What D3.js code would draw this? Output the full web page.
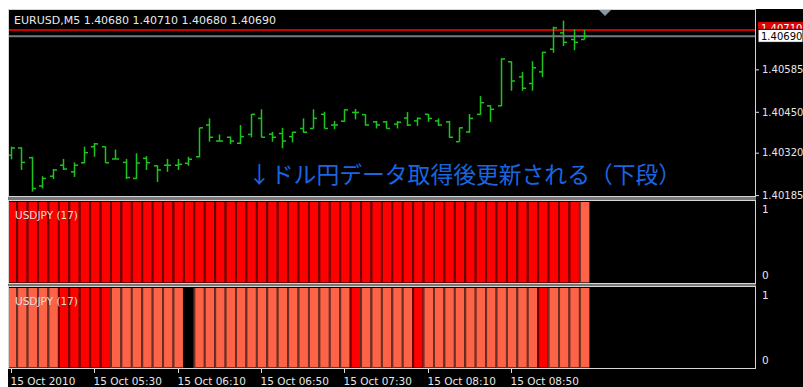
<!DOCTYPE html>
<html><head><meta charset="utf-8">
<script src="https://cdn.jsdelivr.net/npm/d3@7"></script>
<style>body{margin:0;background:#fff;} svg{display:block;}</style>
</head><body><svg id="c" width="803" height="387"></svg>
<script>
// ---------------- DATA ----------------
const symbolTitle = "EURUSD,M5";
const headerOHLC = ["1.40680", "1.40710", "1.40680", "1.40690"];
const times = ["04:50","04:55","05:00","05:05","05:10","05:15","05:20","05:25",
  "05:30","05:35","05:40","05:45","05:50","05:55","06:00","06:05",
  "06:10","06:15","06:20","06:25","06:30","06:35","06:40","06:45",
  "06:50","06:55","07:00","07:05","07:10","07:15","07:20","07:25",
  "07:30","07:35","07:40","07:45","07:50","07:55","08:00","08:05",
  "08:10","08:15","08:20","08:25","08:30","08:35","08:40","08:45",
  "08:50","08:55","09:00","09:05","09:10","09:15","09:20","09:25"];
const openP = [1.40312,1.40335,1.40304,1.40214,1.40245,1.40280,1.40259,1.40288,
  1.40339,1.40339,1.40300,1.40289,1.40238,1.40302,1.40278,1.40280,
  1.40280,1.40286,1.40307,1.40408,1.40357,1.40369,1.40350,1.40378,
  1.40429,1.40379,1.40381,1.40371,1.40397,1.40397,1.40442,1.40408,
  1.40420,1.40448,1.40441,1.40418,1.40418,1.40411,1.40430,1.40421,
  1.40442,1.40421,1.40418,1.40355,1.40386,1.40442,1.40469,1.40469,
  1.40609,1.40561,1.40540,1.40577,1.40649,1.40701,1.40680,1.40680];
const highP = [1.40339,1.40337,1.40307,1.40245,1.40268,1.40300,1.40289,1.40339,
  1.40351,1.40339,1.40330,1.40300,1.40318,1.40309,1.40280,1.40300,
  1.40300,1.40307,1.40399,1.40429,1.40378,1.40371,1.40408,1.40443,
  1.40458,1.40386,1.40399,1.40386,1.40429,1.40458,1.40450,1.40421,
  1.40458,1.40459,1.40442,1.40421,1.40421,1.40421,1.40449,1.40432,
  1.40443,1.40429,1.40421,1.40400,1.40443,1.40500,1.40471,1.40620,
  1.40611,1.40577,1.40611,1.40641,1.40721,1.40740,1.40712,1.40710];
const lowP = [1.40299,1.40265,1.40196,1.40206,1.40236,1.40265,1.40243,1.40286,
  1.40307,1.40288,1.40299,1.40236,1.40236,1.40265,1.40227,1.40259,
  1.40265,1.40278,1.40305,1.40355,1.40355,1.40347,1.40347,1.40369,
  1.40369,1.40355,1.40334,1.40353,1.40383,1.40397,1.40397,1.40395,
  1.40418,1.40426,1.40406,1.40397,1.40397,1.40397,1.40405,1.40405,
  1.40418,1.40405,1.40367,1.40355,1.40383,1.40440,1.40418,1.40468,
  1.40517,1.40517,1.40517,1.40560,1.40638,1.40659,1.40646,1.40680];
const closeP = [1.40335,1.40289,1.40206,1.40238,1.40265,1.40268,1.40280,1.40320,
  1.40348,1.40288,1.40300,1.40241,1.40287,1.40288,1.40265,1.40280,
  1.40283,1.40299,1.40399,1.40369,1.40357,1.40357,1.40371,1.40442,
  1.40369,1.40369,1.40357,1.40385,1.40385,1.40429,1.40397,1.40408,
  1.40456,1.40448,1.40408,1.40408,1.40397,1.40417,1.40408,1.40429,
  1.40429,1.40408,1.40369,1.40399,1.40429,1.40479,1.40458,1.40618,
  1.40548,1.40525,1.40590,1.40639,1.40717,1.40671,1.40671,1.40690];
const askPrice = 1.40710;
const bidPrice = 1.40690;
const priceTicks = [1.40185, 1.40320, 1.40450, 1.40585];

// sub-window 1 (upper histogram): values and colour states (R = red, T = tomato)
const sub1Values = [1,1,1,1,1,1,1,1, 1,1,1,1,1,1,1,1, 1,1,1,1,1,1,1,1, 1,1,1,1,1,1,1,1,
  1,1,1,1,1,1,1,1, 1,1,1,1,1,1,1,1, 1,1,1,1,1,1,1,1];
const sub1States = ["R","R","R","R","R","R","R","R","R","R","R","R","R","R","R","R",
  "R","R","R","R","R","R","R","R","R","R","R","R","R","R","R","R",
  "R","R","R","R","R","R","R","R","R","R","R","R","R","R","R","R",
  "R","R","R","R","R","R","R","T"];
// sub-window 2 (lower histogram)
const sub2Values = [1,1,1,1,1,1,1,1, 1,1,1,1,1,1,1,1, 1,0,1,1,1,1,1,1, 1,1,1,1,1,1,1,1,
  1,1,1,1,1,1,1,1, 1,1,1,1,1,1,1,1, 1,1,1,1,1,1,1,1];
const sub2States = ["T","T","T","T","T","R","R","R","R","R","T","T","T","T","T","T",
  "T","N","T","T","T","T","T","T","T","T","T","T","T","T","T","T",
  "T","R","T","T","T","T","T","R","T","T","T","T","T","T","T","T",
  "T","T","T","R","T","T","T","T"];
const subTicks = [0, 1];
const subLabel = "USDJPY (17)";
const timeTickBars = ["04:50","05:30","06:10","06:50","07:30","08:10","08:50"];
const timeTickLabels = ["15 Oct 2010","15 Oct 05:30","15 Oct 06:10","15 Oct 06:50","15 Oct 07:30","15 Oct 08:10","15 Oct 08:50"];
const noteText = "↓ドル円データ取得後更新される（下段）";

// ---------------- LAYOUT ----------------
const W = 803, H = 387;
const L = 8, R = 755;
const main = {top: 9, bottom: 197};
const p1 = {top: 200, bottom: 284};
const p2 = {top: 286, bottom: 369};
const font = "'DejaVu Sans', sans-serif";
const axisText = "#e6e6e6";

const svg = d3.select("#c");
svg.append("rect").attr("width", W).attr("height", H).attr("fill", "#fff");
svg.append("rect").attr("x", L).attr("y", main.top).attr("width", W - L).attr("height", H - main.top).attr("fill", "#000");

const defs = svg.append("defs");
defs.append("clipPath").attr("id", "clipMain").append("rect")
  .attr("x", L + 1).attr("y", main.top + 1).attr("width", R - L - 1).attr("height", main.bottom - main.top - 1);
defs.append("clipPath").attr("id", "clipP").append("rect")
  .attr("x", L + 1).attr("y", 0).attr("width", R - L - 1).attr("height", H);

// x scale (bars)
const bw = 10.42;
const x = d3.scaleBand().domain(times).range([11 - bw / 2, 11 - bw / 2 + bw * times.length]).padding(0);
const cx = t => x(t) + x.bandwidth() / 2;

// price scale
const y = d3.scaleLinear().domain([1.40179, 1.40777]).range([main.bottom, main.top]);

// ---------------- MAIN PANEL ----------------
const gMain = svg.append("g").attr("clip-path", "url(#clipMain)");
gMain.append("line").attr("x1", L).attr("x2", R).attr("y1", y(askPrice)).attr("y2", y(askPrice))
  .attr("stroke", "#c80000").attr("stroke-width", 2);
gMain.append("line").attr("x1", L).attr("x2", R).attr("y1", y(bidPrice)).attr("y2", y(bidPrice))
  .attr("stroke", "#6f7a84").attr("stroke-width", 2);

const green = "#1ec41e";
const bars = gMain.append("g").attr("stroke", green).attr("stroke-width", 1.5).attr("fill", "none");
times.forEach((t, i) => {
  const c = Math.round(cx(t)) + 0.5;
  bars.append("line").attr("x1", c).attr("x2", c).attr("y1", y(highP[i])).attr("y2", y(lowP[i]));
  bars.append("line").attr("x1", c - 3.5).attr("x2", c).attr("y1", y(openP[i])).attr("y2", y(openP[i]));
  bars.append("line").attr("x1", c).attr("x2", c + 3.5).attr("y1", y(closeP[i])).attr("y2", y(closeP[i]));
});

// header text
svg.append("text").attr("x", 14).attr("y", 24).attr("fill", "#e8e8e8")
  .style("font-family", font).style("font-size", "11px")
  .text(symbolTitle + "  " + headerOHLC.join(" "));

// note text
svg.append("text").attr("x", 248).attr("y", 183).attr("fill", "#1a66e0")
  .style("font-family", "'Noto Sans CJK JP', sans-serif").style("font-size", "22.8px")
  .text(noteText);

// chart shift triangle
svg.append("path").attr("d", `M${599},${10} L${611},${10} L${605},${16} Z`).attr("fill", "#8a96a2");

// price axis
const yAxis = d3.axisRight(y).tickValues(priceTicks).tickFormat(d3.format(".5f")).tickSize(4).tickPadding(3);
const gy = svg.append("g").attr("transform", `translate(${R},0)`).call(yAxis);
gy.select(".domain").remove();
gy.selectAll("line").attr("stroke", "#e0e0e0");
gy.selectAll("text").attr("fill", axisText).style("font-family", font).style("font-size", "10px");

// ask & bid labels
svg.append("rect").attr("x", 758).attr("y", y(askPrice) - 8).attr("width", 45).attr("height", 12).attr("fill", "#e00000");
svg.append("text").attr("x", 761).attr("y", y(askPrice) + 2).attr("fill", "#fff")
  .style("font-family", font).style("font-size", "10px").text(askPrice.toFixed(5));
svg.append("rect").attr("x", 758).attr("y", y(bidPrice) - 7).attr("width", 45).attr("height", 13)
  .attr("fill", "#fff").attr("stroke", "#000").attr("stroke-width", 1);
svg.append("text").attr("x", 761).attr("y", y(bidPrice) + 4).attr("fill", "#000")
  .style("font-family", font).style("font-size", "10px").text(bidPrice.toFixed(5));

// ---------------- SUB PANELS ----------------
const colorOf = {R: "#ff0000", T: "#ff6347", N: "#000000"};
const darkOf = {R: "#6e0000", T: "#6a3024", N: "#000000"};

function subPanel(p, values, states, labelY) {
  const ys = d3.scaleLinear().domain([0, 1]).range([p.bottom - 1, p.top + 2]);
  const g = svg.append("g").attr("clip-path", "url(#clipP)");
  times.forEach((t, i) => {
    const st = states[i];
    if (st === "N" || values[i] === 0) return;
    const x0 = x(t), w = x.bandwidth();
    g.append("rect").attr("x", x0).attr("y", ys(values[i])).attr("width", w)
      .attr("height", ys(0) - ys(values[i])).attr("fill", darkOf[st]);
    g.append("rect").attr("x", x0 + 2).attr("y", ys(values[i])).attr("width", w - 2)
      .attr("height", ys(0) - ys(values[i]) - 1).attr("fill", colorOf[st]);
  });
  svg.append("text").attr("x", 15).attr("y", labelY).attr("fill", "#e8dede")
    .style("font-family", font).style("font-size", "10.5px").text(subLabel);
  const ax = d3.axisRight(ys).tickValues(subTicks).tickFormat(d3.format("d")).tickSize(0).tickPadding(7);
  const ga = svg.append("g").attr("transform", `translate(${R},0)`).call(ax);
  ga.select(".domain").remove();
  ga.selectAll("text").attr("fill", axisText).style("font-family", font).style("font-size", "10.5px")
    .attr("dy", d => d === 1 ? "1.0em" : "-0.45em");
  return ys;
}
subPanel(p1, sub1Values, sub1States, 219);
subPanel(p2, sub2Values, sub2States, 305);

// ---------------- FRAMES ----------------
const frame = "#d4d4d4";
[main, p1, p2].forEach(p => {
  svg.append("rect").attr("x", L + 0.5).attr("y", p.top + 0.5).attr("width", R - L)
    .attr("height", p.bottom - p.top - 1).attr("fill", "none").attr("stroke", frame).attr("stroke-width", 1);
});
svg.append("rect").attr("x", L).attr("y", main.bottom).attr("width", R - L + 1).attr("height", p1.top - main.bottom).attr("fill", "#777");
svg.append("rect").attr("x", L).attr("y", p1.bottom).attr("width", R - L + 1).attr("height", p2.top - p1.bottom).attr("fill", "#777");

// ---------------- TIME AXIS ----------------
const gx = svg.append("g").attr("transform", `translate(0,${p2.bottom})`);
timeTickBars.forEach((t, i) => {
  const c = Math.round(cx(t)) + 0.5;
  gx.append("line").attr("x1", c).attr("x2", c).attr("y1", 0).attr("y2", 4).attr("stroke", "#e0e0e0");
  gx.append("text").attr("x", c - 1).attr("y", 16).attr("fill", axisText)
    .style("font-family", font).style("font-size", "10.5px").text(timeTickLabels[i]);
});
</script>
</body></html>
